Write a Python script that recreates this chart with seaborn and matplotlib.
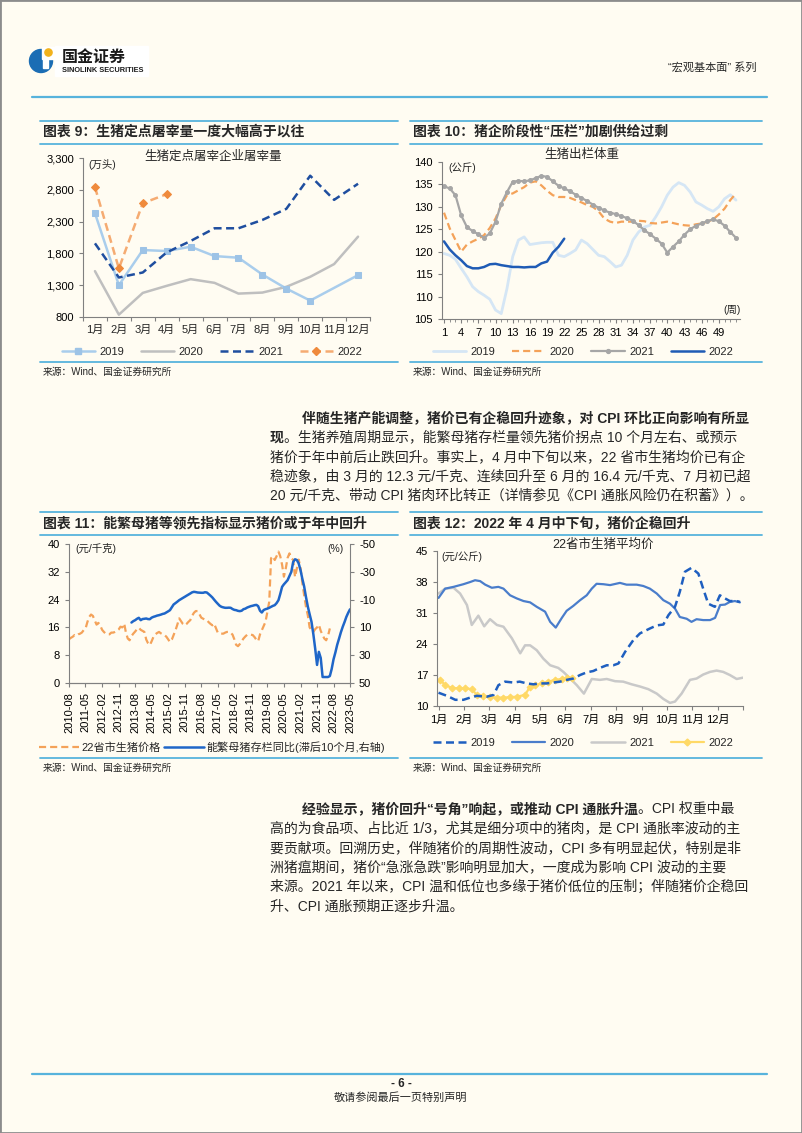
import numpy as np
import pandas as pd
import matplotlib
matplotlib.use('Agg')
from matplotlib import pyplot as plt
from matplotlib.lines import Line2D
from matplotlib.patches import Rectangle, Circle
import seaborn as sns

# ---------------- data ----------------
# 图表9 生猪定点屠宰企业屠宰量(万头)
months = ['1月', '2月', '3月', '4月', '5月', '6月', '7月', '8月', '9月', '10月', '11月', '12月']
tz_2019 = [2432, 1300, 1853, 1837, 1905, 1758, 1732, 1468, 1247, 1058, np.nan, 1458]
tz_2020 = [1521, 837, 1179, 1290, 1395, 1337, 1168, 1184, 1274, 1432, 1632, 2063]
tz_2021 = [1958, 1421, 1500, 1816, 1995, 2195, 2195, 2326, 2500, 3021, 2642, 2895]
tz_2022 = [2842, 1563, 2589, 2732]

# 图表10 生猪出栏体重(公斤), 按周
weight_2019 = [119.6, 119.2, 118.3, 116.3, 114.4, 112.2, 111.1, 110.3, 109.4, 107.0, 106.2, 111.8, 118.9,
               122.6, 123.3, 121.6, 121.8, 122.0, 122.1, 122.1, 119.2, 118.9, 119.6, 120.4, 122.6, 121.8,
               120.5, 119.2, 118.9, 117.8, 116.6, 117.0, 119.2, 122.6, 124.4, 125.5, 125.9, 127.8, 130.0,
               132.6, 134.4, 135.4, 134.8, 133.3, 131.1, 130.4, 129.6, 129.0, 130.0, 131.8, 132.7, 131.5]
weight_2020 = [128.7, 125.2, 122.6, 120.0, 121.6, 122.3, 122.9, 123.7, 125.3, 127.4, 130.4, 132.6, 133.0,
               133.7, 134.4, 135.4, 135.7, 134.8, 133.6, 132.6, 132.2, 132.2, 132.0, 131.5, 131.0, 130.4,
               130.0, 129.0, 127.4, 126.7, 126.4, 126.7, 126.7, 126.7, 126.9, 126.8, 126.4, 126.3, 126.5,
               126.7, 126.4, 126.1, 125.9, 125.8, 126.1, 126.3, 126.7, 127.2, 128.3, 129.6, 131.5, 133.0]
weight_2021 = [134.6, 134.1, 132.6, 128.1, 125.5, 124.6, 123.9, 123.1, 124.1, 126.7, 130.7, 133.3, 135.6,
               135.8, 135.7, 135.9, 136.4, 136.9, 136.7, 135.7, 134.7, 134.1, 133.5, 132.7, 132.0, 131.3,
               130.5, 129.8, 129.2, 128.7, 128.4, 127.9, 127.5, 126.9, 125.9, 124.8, 123.9, 122.9, 121.8,
               119.8, 121.1, 122.3, 123.8, 125.0, 125.8, 126.3, 126.8, 127.2, 126.8, 125.8, 124.4, 123.1]
weight_2022 = [122.3, 120.5, 119.2, 118.1, 116.8, 116.3, 116.3, 116.6, 117.2, 117.3, 117.0, 116.8, 116.6,
               116.6, 116.5, 116.6, 116.6, 117.4, 117.8, 119.8, 121.1, 122.9]

# 图表11 22省市生猪价格(元/千克, 2010-08起, 月度) 与 能繁母猪存栏同比(%, 滞后10个月, 2013-06起)
pig_price = [12.6, 13.0, 13.3, 13.8, 13.6, 14.0, 14.2, 14.5, 15.2, 15.6,
             17.5, 19.0, 19.7, 19.3, 18.0, 16.8, 17.3, 16.5, 15.3, 14.7,
             14.2, 14.0, 14.0, 14.5, 14.5, 14.7, 15.0, 15.4, 16.2, 16.0,
             17.1, 14.5, 12.8, 12.3, 13.5, 14.2, 14.8, 15.5, 15.9, 15.3,
             15.0, 14.7, 12.5, 11.5, 10.9, 12.0, 13.3, 14.0, 14.4, 14.7,
             14.3, 14.0, 13.8, 13.3, 12.5, 11.8, 12.5, 13.8, 15.2, 16.8,
             18.6, 17.8, 17.0, 16.6, 17.0, 17.6, 18.1, 19.3, 20.2, 20.7,
             20.7, 19.8, 18.8, 18.5, 18.2, 18.1, 17.5, 17.0, 16.6, 17.1,
             15.8, 14.5, 14.2, 14.2, 14.2, 14.5, 14.7, 14.7, 14.5, 13.9,
             12.5, 11.0, 10.6, 11.2, 12.0, 12.8, 13.4, 13.9, 14.0, 13.9,
             13.8, 13.2, 12.4, 12.0, 14.0, 15.2, 16.5, 17.6, 20.5, 23.4,
             35.9, 36.5, 35.4, 36.5, 37.8, 36.5, 34.0, 30.6, 33.0, 36.0,
             37.3, 36.0, 35.4, 30.5, 33.0, 35.5, 33.0, 29.0, 25.3, 22.0,
             19.5, 16.0, 15.2, 14.7, 15.5, 16.0, 16.8, 15.0, 13.8, 12.8,
             12.3, 13.5, 15.7]
sow_yoy = [6.5, 5.5, 4.8, 3.8, 3.1, 4.8, 4.0, 3.8, 3.6, 4.0,
           4.1, 3.0, 2.4, 2.0, 1.5, 1.2, 0.8, 0.3, 0.0, -0.8,
           -1.6, -2.4, -4.5, -6.5, -7.5, -8.5, -9.6, -10.4, -11.2, -12.0,
           -12.8, -13.6, -14.4, -15.2, -15.6, -15.4, -15.1, -15.0, -14.9, -14.9,
           -15.3, -15.1, -14.0, -12.8, -11.5, -10.0, -8.4, -7.0, -5.6, -4.8,
           -4.4, -4.1, -4.1, -4.2, -4.1, -3.2, -2.6, -2.4, -1.9, -1.7,
           -2.0, -3.1, -3.5, -4.3, -4.8, -5.3, -5.6, -6.0, -6.2, -5.3,
           -2.0, -0.7, -2.5, -3.1, -3.5, -4.1, -4.8, -5.5, -6.0, -7.5,
           -9.6, -14.0, -19.2, -21.0, -22.5, -24.0, -27.0, -30.0, -37.0, -39.0,
           -38.5, -36.0, -31.0, -25.2, -19.5, -12.0, -5.0, 0.5, 6.0, 15.0,
           25.2, 37.0, 27.6, 32.0, 45.7, 45.7, 45.7, 45.7, 45.0, 40.0,
           33.0, 28.0, 22.5, 18.0, 13.5, 9.5, 6.0, 2.5, -0.5, -3.0]
price_start = '2010-08-01'
sow_start = '2013-06-01'

# 图表12 22省市生猪平均价(元/公斤), 年内位置以月计(0=1月初)
pos_2019 = [0, .33, .66, .98, 1.25, 1.51, 1.9, 2.17, 2.36, 2.62, 2.95, 3.2, 3.48, 3.74, 4.0, 4.26, 4.53,
            4.79, 5.05, 5.31, 5.58, 5.84, 6.1, 6.36, 6.63, 6.89, 7.09, 7.35, 7.68, 7.94, 8.33, 8.6, 8.86,
            9.06, 9.32, 9.51, 9.71, 9.97, 10.24, 10.43, 10.63, 10.89, 11.09, 11.29, 11.48, 11.75, 11.88]
avg_2019 = [13.0, 12.3, 11.4, 11.4, 11.9, 12.3, 12.1, 12.5, 14.7, 15.5, 15.3, 15.5, 15.1, 14.9, 15.1, 15.1,
            15.3, 15.5, 15.9, 16.2, 17.0, 17.6, 17.9, 18.6, 19.2, 19.2, 19.6, 22.2, 24.9, 26.4, 27.5, 28.2,
            28.4, 30.5, 32.4, 35.8, 40.3, 41.2, 39.9, 36.5, 33.1, 32.4, 35.0, 34.3, 33.7, 33.7, 33.5]
pos_2020 = [0, .26, .59, .98, 1.25, 1.44, 1.64, 1.84, 2.1, 2.36, 2.56, 2.82, 3.08, 3.35, 3.61, 3.87, 4.2,
            4.4, 4.62, 4.86, 5.05, 5.31, 5.58, 5.84, 6.04, 6.23, 6.5, 6.76, 7.15, 7.41, 7.81, 8.07, 8.33,
            8.6, 8.86, 9.12, 9.32, 9.51, 9.78, 9.97, 10.17, 10.43, 10.7, 10.9, 11.1, 11.29, 11.48, 11.68, 11.88]
avg_2020 = [34.4, 36.5, 36.9, 37.5, 38.0, 38.4, 38.2, 37.4, 36.7, 36.9, 36.5, 35.0, 34.3, 33.7, 33.4, 32.4,
            31.3, 29.0, 27.7, 29.9, 31.5, 32.6, 33.9, 35.0, 36.5, 37.6, 37.5, 37.3, 37.8, 37.4, 37.4, 37.1,
            36.5, 35.4, 33.9, 33.1, 32.0, 30.1, 29.7, 29.0, 29.6, 29.4, 29.4, 29.9, 32.8, 32.9, 33.5, 33.7, 33.4]
pos_2021 = [0, .26, .59, .85, 1.12, 1.31, 1.57, 1.8, 2.03, 2.3, 2.56, 2.89, 3.22, 3.41, 3.61, 3.87, 4.13,
            4.4, 4.72, 4.92, 5.12, 5.45, 5.73, 6.04, 6.36, 6.63, 6.96, 7.28, 7.61, 7.94, 8.27, 8.6, 8.86,
            9.12, 9.32, 9.58, 9.91, 10.17, 10.43, 10.7, 10.96, 11.22, 11.48, 11.75, 12.0]
avg_2021 = [35.4, 36.5, 36.7, 35.4, 32.8, 28.3, 30.4, 28.0, 29.6, 28.3, 27.9, 25.3, 21.9, 23.7, 23.7, 22.6,
            20.7, 19.2, 18.6, 17.7, 16.6, 14.7, 12.8, 16.1, 15.9, 16.1, 15.6, 15.5, 14.9, 14.4, 13.8, 12.8,
            11.6, 10.7, 11.0, 12.8, 15.9, 16.2, 17.1, 17.7, 18.0, 17.7, 17.0, 16.1, 16.4]
pos_2022 = [.07, .26, .52, .79, 1.05, 1.31, 1.51, 1.77, 2.03, 2.3, 2.56, 2.82, 3.08, 3.41, 3.61, 3.81,
            4.07, 4.33, 4.59, 4.86, 5.05, 5.28]
avg_2022 = [15.9, 14.7, 14.1, 14.0, 14.0, 13.8, 12.5, 12.3, 12.1, 11.9, 11.9, 12.0, 12.1, 12.5, 14.4, 14.7,
            15.1, 15.5, 15.9, 16.1, 16.3, 16.3]

# ---------------- page setup ----------------
sns.set_style('ticks')
plt.rcParams['font.family'] = ['Liberation Sans', 'Noto Sans CJK SC']
plt.rcParams['axes.unicode_minus'] = False

W, H = 802, 1133
BG = '#fffcf2'
BAR = '#57b3dc'
AXC = '#808080'
CJK = ['Liberation Sans', 'Noto Sans CJK SC']

fig = plt.figure(figsize=(W / 100, H / 100), dpi=100, facecolor=BG)


def add_ax(l, t, r, b):
    return fig.add_axes([l / W, 1 - b / H, (r - l) / W, (b - t) / H])


def ptext(x, y, s, **kw):
    kw.setdefault('va', 'center')
    kw.setdefault('family', CJK)
    return fig.text(x / W, 1 - y / H, s, **kw)


def hline(x0, x1, y, color=BAR, lw=1.3):
    fig.add_artist(Line2D([x0 / W, x1 / W], [1 - y / H, 1 - y / H], color=color, lw=lw))


def style_ax(ax):
    ax.set_facecolor('none')
    for s in ['top', 'right']:
        ax.spines[s].set_visible(False)
    for s in ['left', 'bottom']:
        ax.spines[s].set_color(AXC)
        ax.spines[s].set_linewidth(0.8)
    ax.tick_params(labelsize=8, colors='black', length=3, width=0.8, direction='out')
    ax.tick_params(color=AXC)
    ax.set_xlabel('')
    ax.set_ylabel('')


def legend_at(ax, handles, labels, cx, cy, **kw):
    ax.legend(handles, labels, loc='center', bbox_to_anchor=(cx / W, 1 - cy / H),
              bbox_transform=fig.transFigure, ncol=len(handles), frameon=False,
              prop={'size': 8, 'family': CJK}, **kw)


def frame_bars(x0, x1, title, top, src_y):
    hline(x0, x1, top)
    hline(x0, x1, top + 22.5)
    ptext(x0 + 3, top + 11, title, fontsize=10, fontweight='bold')
    hline(x0, x1, src_y)
    ptext(x0 + 3, src_y + 10, '来源：Wind、国金证券研究所', fontsize=7)


# page border
fig.add_artist(Rectangle((0, 0), 1, 1, transform=fig.transFigure, fill=False, ec='#8c8c8c', lw=2))

# ---------------- header ----------------
logo = add_ax(26, 44, 152, 78)
logo.set_xlim(26, 152)
logo.set_ylim(78, 44)
logo.axis('off')
logo.add_patch(Rectangle((55, 46), 93, 30, color='white'))
logo.add_patch(Circle((41, 61), 11.5, color='#1b6db4'))
logo.add_patch(Rectangle((42, 47), 12, 12, color='white'))
logo.add_patch(Rectangle((42.5, 56), 5, 12, color='white'))
logo.add_patch(Circle((48.5, 52.5), 3.6, color='#f2b21c'))
ptext(62, 57, '国金证券', fontsize=11.5, fontweight='bold', color='#1a1a1a')
ptext(62, 70, 'SINOLINK SECURITIES', fontsize=5.3, fontweight='bold', color='#1a1a1a')
ptext(756, 67, '“宏观基本面” 系列', fontsize=8, ha='right')
hline(32, 767, 97, lw=1.6)

LEG4 = dict(handlelength=3.0, columnspacing=1.5, handletextpad=0.4)

# ---------------- 图表9 ----------------
frame_bars(40, 398, '图表 9：生猪定点屠宰量一度大幅高于以往', 121, 362)
ax9 = add_ax(83, 158, 370, 317)
idx = np.arange(len(months))
sns.lineplot(x=idx, y=tz_2020, ax=ax9, color='#bfbfbf', lw=1.8)
sns.lineplot(x=idx, y=tz_2019, ax=ax9, color='#a9cdec', lw=1.8, marker='s', markersize=4.5,
             markeredgecolor='#9dc3e6', markerfacecolor='#9dc3e6')
sns.lineplot(x=idx, y=tz_2021, ax=ax9, color='#1f4e9f', lw=1.8, linestyle=(0, (3.2, 1.8)))
sns.lineplot(x=idx[:len(tz_2022)], y=tz_2022, ax=ax9, color='#f5ab72', lw=1.8, linestyle=(0, (3.2, 1.8)),
             marker='D', markersize=4.5, markeredgecolor='#ef8a3c', markerfacecolor='#ef8a3c')
style_ax(ax9)
ax9.set_xlim(-0.5, 11.5)
ax9.set_ylim(800, 3300)
ax9.set_yticks(range(800, 3301, 500))
ax9.set_yticklabels([f'{v:,}' for v in range(800, 3301, 500)])
ax9.set_xticks(np.arange(-0.5, 12, 1))
ax9.set_xticklabels([])
ax9.set_xticks(idx, minor=True)
ax9.set_xticklabels(months, minor=True)
ax9.tick_params(axis='x', which='minor', length=0, labelsize=8, pad=6)
ptext(88, 165, '(万头)', fontsize=7.5)
ptext(213, 157, '生猪定点屠宰企业屠宰量', fontsize=9, ha='center')
h9 = [Line2D([], [], color='#a9cdec', lw=1.8, marker='s', ms=4.5, mfc='#9dc3e6', mec='#9dc3e6'),
      Line2D([], [], color='#bfbfbf', lw=1.8),
      Line2D([], [], color='#1f4e9f', lw=1.8, ls=(0, (3.2, 1.8))),
      Line2D([], [], color='#f5ab72', lw=1.8, ls=(0, (3.2, 1.8)), marker='D', ms=4.5, mfc='#ef8a3c', mec='#ef8a3c')]
legend_at(ax9, h9, ['2019', '2020', '2021', '2022'], 212, 352, **LEG4)

# ---------------- 图表10 ----------------
frame_bars(410, 762, '图表 10：猪企阶段性“压栏”加剧供给过剩', 121, 362)
ax10 = add_ax(442, 162, 740, 319)
weeks = np.arange(1, 53)
sns.lineplot(x=weeks, y=weight_2019, ax=ax10, color='#d5e6f5', lw=2)
sns.lineplot(x=weeks, y=weight_2020, ax=ax10, color='#f4a259', lw=1.6, linestyle=(0, (3.2, 1.8)))
sns.lineplot(x=weeks, y=weight_2021, ax=ax10, color='#a6a6a6', lw=1.6, marker='o', markersize=2.8,
             markeredgecolor='#a6a6a6')
sns.lineplot(x=weeks[:len(weight_2022)], y=weight_2022, ax=ax10, color='#1f5bb5', lw=1.8)
style_ax(ax10)
ax10.set_xlim(0.65, 52.7)
ax10.set_ylim(105, 140)
ax10.set_yticks(range(105, 141, 5))
ax10.set_xticks(range(1, 50, 3))
ax10.set_xticks(range(1, 53), minor=True)
ax10.tick_params(axis='x', which='minor', length=2, color=AXC)
ptext(448, 168, '(公斤)', fontsize=7.5)
ptext(732, 310, '(周)', fontsize=7.5, ha='center')
ptext(582, 155, '生猪出栏体重', fontsize=9, ha='center')
h10 = [Line2D([], [], color='#d5e6f5', lw=2),
       Line2D([], [], color='#f4a259', lw=1.6, ls=(0, (3.2, 1.8))),
       Line2D([], [], color='#a6a6a6', lw=1.6, marker='o', ms=2.8),
       Line2D([], [], color='#1f5bb5', lw=1.8)]
legend_at(ax10, h10, ['2019', '2020', '2021', '2022'], 583, 352, **LEG4)

# ---------------- paragraph 1 ----------------
renderer = fig.canvas.get_renderer()


def mixed_line(x, y, parts, size=10):
    for s, bold in parts:
        t = ptext(x, y, s, fontsize=size, fontweight='bold' if bold else 'normal')
        x += t.get_window_extent(renderer).width * 100 / fig.dpi


P1 = 418
mixed_line(302, P1, [('伴随生猪产能调整，猪价已有企稳回升迹象，对 CPI 环比正向影响有所显', True)])
mixed_line(270, P1 + 19.5, [('现', True), ('。生猪养殖周期显示，能繁母猪存栏量领先猪价拐点 10 个月左右、或预示', False)])
mixed_line(270, P1 + 39, [('猪价于年中前后止跌回升。事实上，4 月中下旬以来，22 省市生猪均价已有企', False)])
mixed_line(270, P1 + 58.5, [('稳迹象，由 3 月的 12.3 元/千克、连续回升至 6 月的 16.4 元/千克、7 月初已超', False)])
mixed_line(270, P1 + 78, [('20 元/千克、带动 CPI 猪肉环比转正（详情参见《CPI 通胀风险仍在积蓄》）。', False)])

# ---------------- 图表11 ----------------
frame_bars(40, 398, '图表 11：能繁母猪等领先指标显示猪价或于年中回升', 512, 758)
ax11 = add_ax(69, 544, 350, 683)
price_dates = pd.date_range(price_start, periods=len(pig_price), freq='MS')
sow_dates = pd.date_range(sow_start, periods=len(sow_yoy), freq='MS')
sns.lineplot(x=price_dates, y=pig_price, ax=ax11, color='#f4a259', lw=1.6, linestyle=(0, (3.2, 1.8)))
ax11b = ax11.twinx()
sns.lineplot(x=sow_dates, y=sow_yoy, ax=ax11b, color='#1f66c8', lw=1.8)
style_ax(ax11)
style_ax(ax11b)
ax11b.spines['right'].set_visible(True)
ax11b.spines['right'].set_color(AXC)
ax11b.spines['left'].set_visible(False)
ax11.set_ylim(0, 40)
ax11.set_yticks(range(0, 41, 8))
ax11b.set_ylim(50, -50)
ax11b.set_yticks([-50, -30, -10, 10, 30, 50])
tick_dates = pd.date_range('2010-08-01', '2023-05-01', freq='9MS')
ax11.set_xlim(tick_dates[0], tick_dates[-1])
ax11.set_xticks(tick_dates)
ax11.set_xticklabels([d.strftime('%Y-%m') for d in tick_dates], rotation=90)
ptext(75, 549, '(元/千克)', fontsize=7.5)
ptext(344, 549, '(%)', fontsize=7.5, ha='right')
h11 = [Line2D([], [], color='#f4a259', lw=1.6, ls=(0, (3.2, 1.8))),
       Line2D([], [], color='#1f66c8', lw=1.8)]
legend_at(ax11b, h11, ['22省市生猪价格', '能繁母猪存栏同比(滞后10个月,右轴)'], 212, 747,
          handlelength=3.6, columnspacing=0.3, handletextpad=0.2)

# ---------------- 图表12 ----------------
frame_bars(410, 762, '图表 12：2022 年 4 月中下旬，猪价企稳回升', 512, 758)
ax12 = add_ax(437, 551, 743, 706)
sns.lineplot(x=pos_2021, y=avg_2021, ax=ax12, color='#c9c9c9', lw=1.8)
sns.lineplot(x=pos_2020, y=avg_2020, ax=ax12, color='#4a7dcb', lw=1.6)
sns.lineplot(x=pos_2022, y=avg_2022, ax=ax12, color='#ffd966', lw=1.6, marker='D', markersize=3.5,
             markeredgecolor='#ffd966', markerfacecolor='#ffd966')
sns.lineplot(x=pos_2019, y=avg_2019, ax=ax12, color='#1f5fc0', lw=1.8, linestyle=(0, (3.2, 1.8)))
style_ax(ax12)
ax12.set_xlim(-0.06, 12)
ax12.set_ylim(10, 45)
ax12.set_yticks(range(10, 46, 7))
ax12.set_xticks(range(13))
ax12.set_xticklabels(months + [''])
ptext(441, 557, '(元/公斤)', fontsize=7.5)
ptext(603, 545, '22省市生猪平均价', fontsize=9, ha='center')
h12 = [Line2D([], [], color='#1f5fc0', lw=1.8, ls=(0, (3.2, 1.8))),
       Line2D([], [], color='#4a7dcb', lw=1.6),
       Line2D([], [], color='#c9c9c9', lw=1.8),
       Line2D([], [], color='#ffd966', lw=1.6, marker='D', ms=3.5)]
legend_at(ax12, h12, ['2019', '2020', '2021', '2022'], 583, 743, **LEG4)

# ---------------- paragraph 2 ----------------
P2 = 809
mixed_line(302, P2, [('经验显示，猪价回升“号角”响起，或推动 CPI 通胀升温', True), ('。CPI 权重中最', False)])
mixed_line(270, P2 + 19.5, [('高的为食品项、占比近 1/3，尤其是细分项中的猪肉，是 CPI 通胀率波动的主', False)])
mixed_line(270, P2 + 39, [('要贡献项。回溯历史，伴随猪价的周期性波动，CPI 多有明显起伏，特别是非', False)])
mixed_line(270, P2 + 58.5, [('洲猪瘟期间，猪价“急涨急跌”影响明显加大，一度成为影响 CPI 波动的主要', False)])
mixed_line(270, P2 + 78, [('来源。2021 年以来，CPI 温和低位也多缘于猪价低位的压制；伴随猪价企稳回', False)])
mixed_line(270, P2 + 97.5, [('升、CPI 通胀预期正逐步升温。', False)])

# ---------------- footer ----------------
hline(32, 767, 1074, lw=1.6)
ptext(401, 1084, '- 6 -', fontsize=8.5, fontweight='bold', ha='center')
ptext(401, 1098, '敬请参阅最后一页特别声明', fontsize=8, ha='center')

fig.savefig('out.png', dpi=100, facecolor=BG)
